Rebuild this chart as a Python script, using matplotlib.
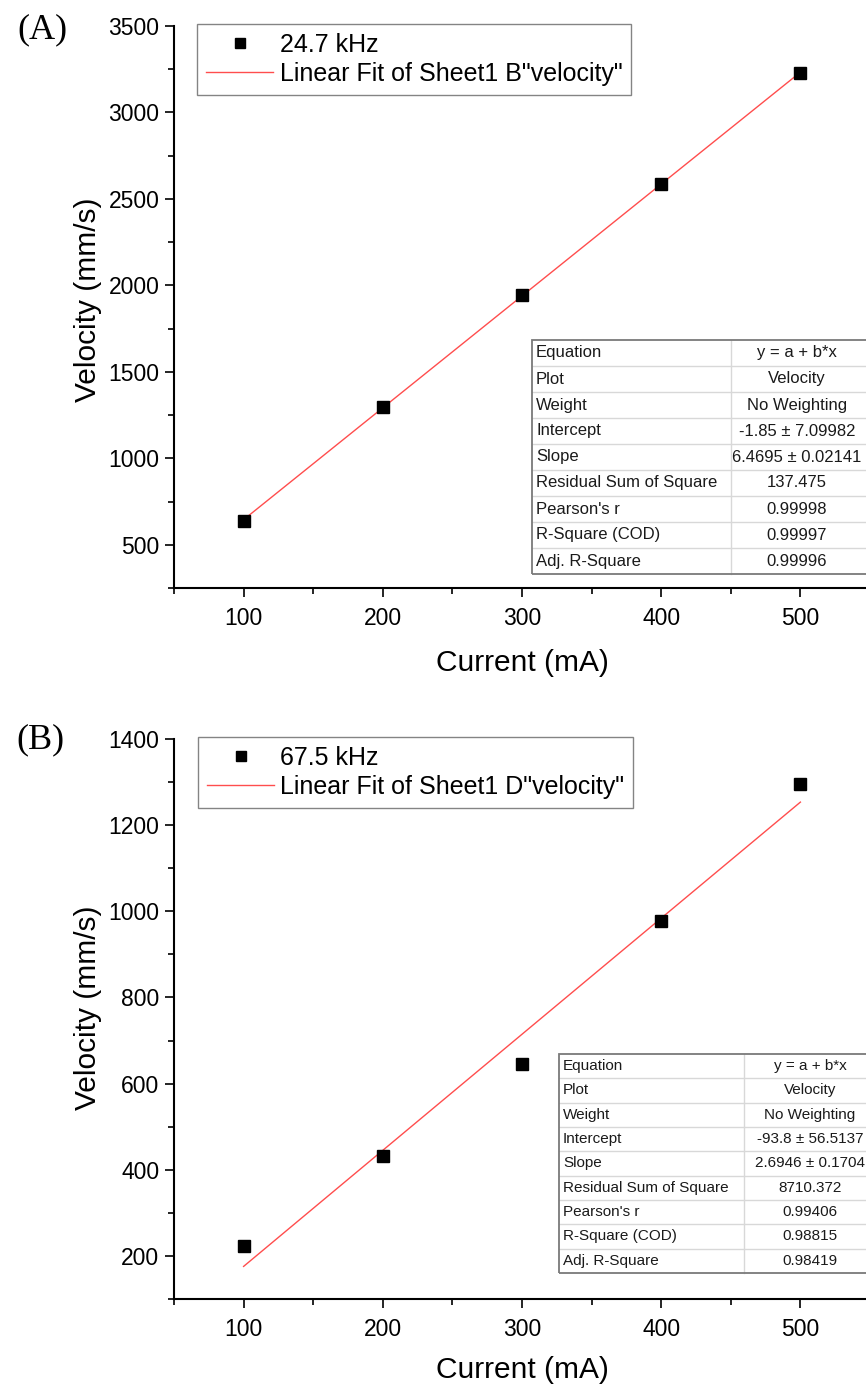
import matplotlib
matplotlib.use('Agg')
import matplotlib.pyplot as plt
import numpy as np
from matplotlib.patches import Rectangle
from matplotlib.lines import Line2D
from matplotlib.ticker import MultipleLocator

# ---------------- data ----------------
current_ma = [100, 200, 300, 400, 500]
velocity_a = [638, 1297, 1942, 2589, 3228]
velocity_b = [222, 432, 646, 977, 1296]
freq_label_a = "24.7 kHz"
freq_label_b = "67.5 kHz"
fit_label_a = 'Linear Fit of Sheet1 B"velocity"'
fit_label_b = 'Linear Fit of Sheet1 D"velocity"'
intercept_a, slope_a = -1.85, 6.4695
intercept_b, slope_b = -93.8, 2.6946
table_keys = ["Equation", "Plot", "Weight", "Intercept", "Slope",
              "Residual Sum of Square", "Pearson's r", "R-Square (COD)",
              "Adj. R-Square"]
table_vals_a = ["y = a + b*x", "Velocity", "No Weighting", "-1.85 ± 7.09982",
                "6.4695 ± 0.02141", "137.475", "0.99998", "0.99997", "0.99996"]
table_vals_b = ["y = a + b*x", "Velocity", "No Weighting", "-93.8 ± 56.5137",
                "2.6946 ± 0.1704", "8710.372", "0.99406", "0.98815", "0.98419"]

# ---------------- figure ----------------
W, H = 866, 1389
DPI = 100
plt.rcParams['font.family'] = ['Liberation Sans', 'DejaVu Sans']
fig = plt.figure(figsize=(W / DPI, H / DPI), dpi=DPI)
fig.patch.set_facecolor('white')


def fx(x):
    return x / W


def fy(y):
    return 1 - y / H


def make_axes(top, bottom, left=174, right=870):
    return fig.add_axes([fx(left), fy(bottom), fx(right) - fx(left), fy(top) - fy(bottom)])


def style_axes(ax, ylim, ymajor, yminor):
    ax.set_xlim(50, 550)
    ax.set_ylim(*ylim)
    ax.xaxis.set_major_locator(MultipleLocator(100))
    ax.xaxis.set_minor_locator(MultipleLocator(50))
    ax.yaxis.set_major_locator(MultipleLocator(ymajor))
    ax.yaxis.set_minor_locator(MultipleLocator(yminor))
    for s in ['top', 'right']:
        ax.spines[s].set_visible(False)
    for s in ['left', 'bottom']:
        ax.spines[s].set_linewidth(1.5)
        ax.spines[s].set_color('black')
    ax.tick_params(axis='both', which='major', direction='out', length=6.5,
                   width=1.2, labelsize=16.5, colors='black')
    ax.tick_params(axis='both', which='minor', direction='out', length=4.3, width=1.2)
    ax.tick_params(axis='x', which='major', pad=7)
    ax.tick_params(axis='y', which='major', pad=4)
    ax.set_facecolor('none')


def draw_panel(ax, vel, a, b, lab_pt, lab_fit, leg_left, leg_top):
    ax.plot(current_ma, vel, linestyle='none', marker='s', markersize=8.6,
            color='black', zorder=3)
    xs = np.array([current_ma[0], current_ma[-1]], dtype=float)
    ax.plot(xs, a + b * xs, color='#ff4d4d', linewidth=1.0, zorder=2)
    h1 = Line2D([], [], linestyle='none', marker='s', markersize=6.5, color='black')
    h2 = Line2D([], [], color='#ff4d4d', linewidth=1.0)
    leg = ax.legend([h1, h2], [lab_pt, lab_fit], loc='upper left',
                    bbox_to_anchor=(fx(leg_left), fy(leg_top)),
                    bbox_transform=fig.transFigure, borderaxespad=0,
                    fontsize=18, frameon=True, fancybox=False,
                    edgecolor='#666666', handlelength=2.7, handletextpad=0.25,
                    borderpad=0.35, labelspacing=0.2, numpoints=1)
    leg.get_frame().set_linewidth(1.0)


def draw_table(keys, vals, left, top, divider, right, row_h, val_center, fs):
    n = len(keys)
    bottom = top + n * row_h
    fig.add_artist(Rectangle((fx(left), fy(bottom)), fx(right) - fx(left),
                             fy(top) - fy(bottom), transform=fig.transFigure,
                             facecolor='white', edgecolor='none', zorder=5))
    for i in range(1, n):
        yy = top + i * row_h
        fig.add_artist(Line2D([fx(left), fx(right)], [fy(yy), fy(yy)],
                              transform=fig.transFigure, color='#d8d8d8',
                              linewidth=1.0, zorder=6))
    fig.add_artist(Line2D([fx(divider), fx(divider)], [fy(top), fy(bottom)],
                          transform=fig.transFigure, color='#d8d8d8',
                          linewidth=1.0, zorder=6))
    fig.add_artist(Rectangle((fx(left), fy(bottom)), fx(right) - fx(left),
                             fy(top) - fy(bottom), transform=fig.transFigure,
                             facecolor='none', edgecolor='#7a7a7a',
                             linewidth=1.3, zorder=7))
    for i, (k, v) in enumerate(zip(keys, vals)):
        yc = top + (i + 0.5) * row_h
        fig.text(fx(left + 4), fy(yc), k, ha='left', va='center',
                 fontsize=fs, color='#1a1a1a', zorder=8)
        fig.text(fx(val_center), fy(yc), v, ha='center', va='center',
                 fontsize=fs, color='#1a1a1a', zorder=8)


# ---------------- panel A ----------------
axA = make_axes(top=26, bottom=588)
style_axes(axA, (250, 3500), 500, 250)
draw_panel(axA, velocity_a, intercept_a, slope_a, freq_label_a, fit_label_a, 197, 24)
axA.set_xlabel('Current (mA)', fontsize=21.5)
axA.set_ylabel('Velocity (mm/s)', fontsize=21.5)
axA.xaxis.label.set_va('center')
axA.yaxis.label.set_va('center')
axA.xaxis.set_label_coords(fx(522), fy(663), transform=fig.transFigure)
axA.yaxis.set_label_coords(fx(88), fy(300), transform=fig.transFigure)
draw_table(table_keys, table_vals_a, left=532, top=340, divider=731,
           right=880, row_h=26.0, val_center=797, fs=12)

# ---------------- panel B ----------------
axB = make_axes(top=739, bottom=1299)
style_axes(axB, (100, 1400), 200, 100)
draw_panel(axB, velocity_b, intercept_b, slope_b, freq_label_b, fit_label_b, 198, 737)
axB.set_xlabel('Current (mA)', fontsize=21.5)
axB.set_ylabel('Velocity (mm/s)', fontsize=21.5)
axB.xaxis.label.set_va('center')
axB.yaxis.label.set_va('center')
axB.xaxis.set_label_coords(fx(522), fy(1370), transform=fig.transFigure)
axB.yaxis.set_label_coords(fx(88), fy(1008), transform=fig.transFigure)
draw_table(table_keys, table_vals_b, left=559, top=1054, divider=744,
           right=900, row_h=24.33, val_center=810, fs=11)

# ---------------- panel letters ----------------
fig.text(fx(42), fy(30), '(A)', fontsize=26, ha='center', va='center',
         family=['Liberation Serif', 'DejaVu Serif'])
fig.text(fx(40), fy(740), '(B)', fontsize=26, ha='center', va='center',
         family=['Liberation Serif', 'DejaVu Serif'])

fig.savefig('out.png', dpi=DPI, facecolor='white')
